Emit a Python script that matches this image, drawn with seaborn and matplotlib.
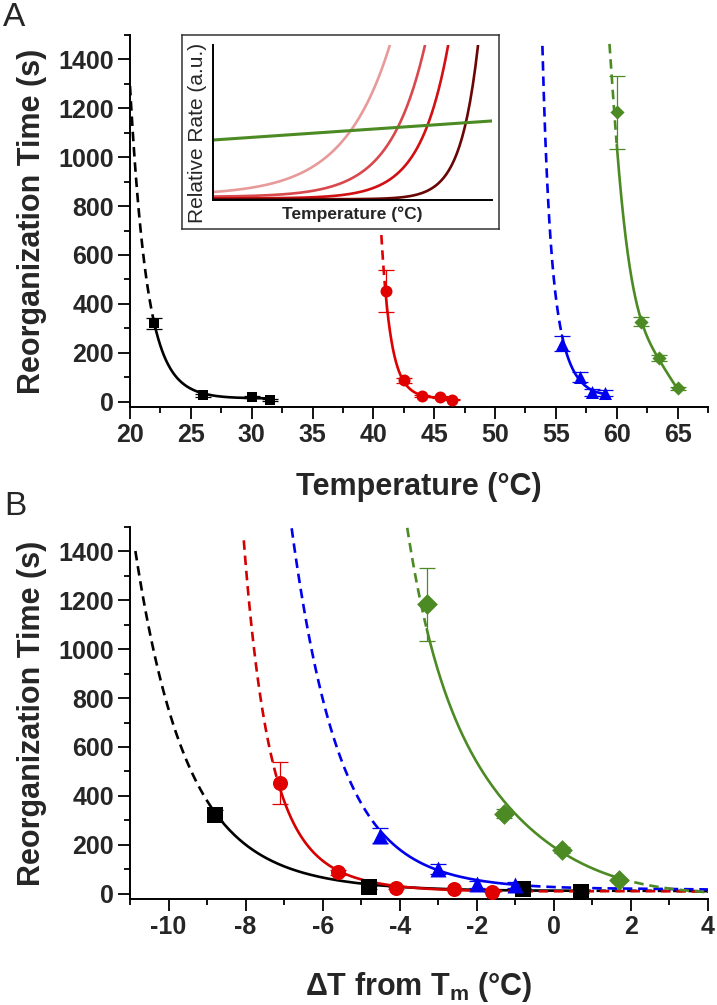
import numpy as np
import seaborn as sns
import matplotlib.pyplot as plt
from matplotlib.ticker import MultipleLocator

# ---- measured reorganization times (panel A: temperature in C) ----
temp_black = [22.0, 26.0, 30.0, 31.5]
time_black = [320, 26, 18, 6]
err_black = [22, 6, 5, 3]

temp_red = [41.0, 42.5, 44.0, 45.5, 46.5]
time_red = [452, 88, 22, 20, 8]
err_red = [86, 10, 5, 5, 3]

temp_blue = [55.5, 57.0, 58.0, 59.0]
time_blue = [237, 100, 38, 35]
err_blue = [30, 20, 15, 12]

temp_green = [60.0, 62.0, 63.5, 65.0]
time_green = [1184, 327, 180, 55]
err_green = [150, 18, 12, 6]

# melting temperatures used for panel B (dT = T - Tm)
tm_values = [30.8, 48.1, 60.0, 63.3]

# ---- points, panel A ----
fitA_black_x = [20.0, 20.27, 20.41, 20.68, 20.96, 21.23, 21.5, 22.0, 23.0, 24.1, 25.2, 26.0, 28.0, 30.0, 31.5]
fitA_black_y = [1300, 1122, 959, 771, 661, 567, 416, 320, 171, 90, 49, 30, 19, 15, 13]
fitA_red_x = [40.62, 40.75, 40.85, 41.0, 41.39, 41.8, 42.5, 43.3, 44.0, 45.4, 46.5]
fitA_red_y = [680, 620, 560, 452, 280, 158, 88, 42, 24, 16, 12]
fitA_blue_x = [53.85, 54.1, 54.37, 54.57, 54.78, 55.19, 55.5, 56.15, 57.0, 57.5, 58.0, 59.0]
fitA_blue_y = [1460, 1110, 906, 702, 498, 363, 237, 158, 100, 60, 42, 33]
fitA_green_x = [59.37, 59.6, 59.92, 60.25, 60.9, 61.33, 61.74, 62.0, 62.7, 63.46, 64.2, 65.0]
fitA_green_y = [1460, 1330, 1184, 837, 620, 484, 375, 327, 246, 178, 110, 53]

# ---- points, panel B ----
fitB_black_x = [-10.92, -10.56, -10.22, -9.83, -9.65, -9.0, -8.8, -8.0, -7.0, -6.0, -5.0, -3.0, -1.0, 0.7, 2.0, 4.0]
fitB_black_y = [1416, 1171, 927, 657, 575, 371, 318, 210, 120, 65, 38, 20, 14, 12, 11, 10]
fitB_red_x = [-8.12, -7.96, -7.8, -7.55, -7.31, -7.1, -6.58, -5.99, -5.6, -5.01, -4.1, -2.6, -1.6, 0.0, 2.0, 4.0]
fitB_red_y = [1457, 1241, 1008, 804, 600, 452, 249, 127, 88, 57, 28, 16, 12, 10, 9, 8]
fitB_blue_x = [-6.87, -6.58, -6.27, -6.01, -5.62, -5.08, -4.5, -3.71, -3.0, -2.0, -1.0, 0.5, 2.0, 4.0]
fitB_blue_y = [1498, 1282, 1037, 845, 575, 371, 237, 165, 100, 50, 37, 25, 20, 17]
fitB_green_x = [-3.9, -3.3, -2.86, -2.42, -2.2, -1.3, -0.6, 0.18, 0.96, 1.69, 2.34, 3.0, 4.0]
fitB_green_y = [1498, 1184, 873, 669, 601, 331, 248, 188, 125, 57, 37, 20, 6]

# ---- inset schematic (relative rate vs temperature) ----
inset_top = [0.634, 0.76, 0.843, 0.95]
inset_steep = [6, 8, 10, 16]
inset_base = [0.03, 0.02, 0.01, 0.005]
inset_colors = ['#e89a9a', '#d8484c', '#d20f12', '#6a0606']
inset_green = [0.387, 0.51]

BLACK, RED, BLUE, GREEN = '#000000', '#e00000', '#0000ee', '#4c8a24'
DASH = (0, (3.6, 2.2))

sns.set_theme(style='ticks')
plt.rcParams['font.family'] = ['Liberation Sans', 'DejaVu Sans']
plt.rcParams['axes.unicode_minus'] = False
plt.rcParams['mathtext.fontset'] = 'custom'
plt.rcParams['mathtext.bf'] = 'Liberation Sans:bold'
plt.rcParams['mathtext.rm'] = 'Liberation Sans:bold'


def draw_fit(ax, xs, ys, lo, hi, color):
    xs = np.asarray(xs, float)
    ys = np.asarray(ys, float)
    coef = np.polyfit(xs, np.log(ys + 10), 4)
    xx = np.linspace(xs[0], xs[-1], 500)
    yy = np.exp(np.polyval(coef, xx)) - 10
    keep = yy <= ys.max() + 5
    xx, yy = xx[keep], yy[keep]
    solid = (xx >= lo) & (xx <= hi)
    sns.lineplot(x=xx[solid], y=yy[solid], color=color, lw=1.9, ax=ax, zorder=2)
    left = xx <= lo
    right = xx >= hi
    if left.sum() > 1:
        sns.lineplot(x=xx[left], y=yy[left], color=color, lw=1.9, ls=DASH, ax=ax, zorder=2)
    if right.sum() > 1:
        sns.lineplot(x=xx[right], y=yy[right], color=color, lw=1.9, ls=DASH, ax=ax, zorder=2)


def draw_points(ax, xs, ys, errs, color, marker, size):
    ax.errorbar(xs, ys, yerr=errs, fmt='none', ecolor=color, elinewidth=0.9,
                capsize=6, capthick=0.9, zorder=3)
    sns.scatterplot(x=xs, y=ys, color=color, marker=marker, s=size,
                    linewidth=0, ax=ax, zorder=4)


def style_axes(ax):
    for side in ['top', 'right']:
        ax.spines[side].set_visible(False)
    for side in ['left', 'bottom']:
        ax.spines[side].set_linewidth(1.4)
        ax.spines[side].set_color('black')
    ax.tick_params(which='major', length=8.5, width=1.3, direction='out', color='black',
                   labelsize=18, pad=3)
    ax.tick_params(which='minor', length=4.5, width=1.3, direction='out', color='black')
    ax.tick_params(axis='both', which='both', left=True, bottom=True)
    ax.set_ylim(-22, 1500)
    ax.yaxis.set_major_locator(MultipleLocator(200))
    ax.yaxis.set_minor_locator(MultipleLocator(100))
    ax.set_yticks([0, 200, 400, 600, 800, 1000, 1200, 1400])
    for lab in ax.get_xticklabels() + ax.get_yticklabels():
        lab.set_fontweight('bold')
    ax.set_ylabel('Reorganization Time (s)', fontsize=22, fontweight='bold')
    ax.yaxis.set_label_coords(-0.143, 0.5)
    ax.grid(False)


fig = plt.figure(figsize=(7.17, 10.05), dpi=100)
axA = fig.add_axes([130 / 717, 1 - 407 / 1005, 578 / 717, 372 / 1005])
axB = fig.add_axes([130 / 717, 1 - 899 / 1005, 578 / 717, 372 / 1005])

# ---- panel A ----
draw_fit(axA, fitA_black_x, fitA_black_y, temp_black[0], temp_black[-1], BLACK)
draw_fit(axA, fitA_red_x, fitA_red_y, temp_red[0], temp_red[-1], RED)
draw_fit(axA, fitA_blue_x, fitA_blue_y, temp_blue[0], temp_blue[-1], BLUE)
draw_fit(axA, fitA_green_x, fitA_green_y, temp_green[0], temp_green[-1], GREEN)
draw_points(axA, temp_black, time_black, err_black, BLACK, 's', 62)
draw_points(axA, temp_red, time_red, err_red, RED, 'o', 74)
draw_points(axA, temp_blue, time_blue, err_blue, BLUE, '^', 88)
draw_points(axA, temp_green, time_green, err_green, GREEN, 'D', 52)
axA.set_xlim(20, 67.5)
axA.xaxis.set_major_locator(MultipleLocator(5))
axA.xaxis.set_minor_locator(MultipleLocator(2.5))
style_axes(axA)
axA.set_xlabel('Temperature (°C)', fontsize=22, fontweight='bold')
axA.xaxis.set_label_coords(0.5, -0.175)

# ---- panel B ----
dT_black = [t - tm_values[0] for t in temp_black]
dT_red = [t - tm_values[1] for t in temp_red]
dT_blue = [t - tm_values[2] for t in temp_blue]
dT_green = [t - tm_values[3] for t in temp_green]
draw_fit(axB, fitB_black_x, fitB_black_y, dT_black[0], dT_black[-1], BLACK)
draw_fit(axB, fitB_red_x, fitB_red_y, dT_red[0], dT_red[-1], '#d40000')
draw_fit(axB, fitB_blue_x, fitB_blue_y, dT_blue[0], dT_blue[-1], BLUE)
draw_fit(axB, fitB_green_x, fitB_green_y, dT_green[0], dT_green[-1], GREEN)
draw_points(axB, dT_black, time_black, err_black, BLACK, 's', 117)
draw_points(axB, dT_red, time_red, err_red, RED, 'o', 117)
draw_points(axB, dT_blue, time_blue, err_blue, BLUE, '^', 132)
draw_points(axB, dT_green, time_green, err_green, GREEN, 'D', 112)
axB.set_xlim(-11, 4)
axB.xaxis.set_major_locator(MultipleLocator(2))
axB.xaxis.set_minor_locator(MultipleLocator(1))
style_axes(axB)
axB.set_xlabel(r'ΔT from T$_{\mathbf{m}}$ (°C)', fontsize=22, fontweight='bold')
axB.xaxis.set_label_coords(0.5, -0.19)

# ---- inset ----
frame = fig.add_axes([182 / 717, 1 - 229 / 1005, 317 / 717, 194 / 1005])
frame.set_xticks([])
frame.set_yticks([])
frame.set_facecolor('white')
for s in frame.spines.values():
    s.set_linewidth(1.1)
    s.set_color('#333333')
ins = fig.add_axes([213 / 717, 1 - 200 / 1005, 279 / 717, 155 / 1005])
ins.set_facecolor('none')
for top, k, base, col in zip(inset_top, inset_steep, inset_base, inset_colors):
    xx = np.linspace(0, top, 200)
    yy = base + (1 - base) * np.exp(k * (xx - top))
    sns.lineplot(x=xx, y=yy, color=col, lw=1.9, ax=ins)
sns.lineplot(x=[0, 1], y=inset_green, color=GREEN, lw=2.2, ax=ins)
ins.set_xlim(0, 1)
ins.set_ylim(0, 1)
ins.set_xticks([])
ins.set_yticks([])
for side in ['top', 'right']:
    ins.spines[side].set_visible(False)
for side in ['left', 'bottom']:
    ins.spines[side].set_linewidth(1.4)
    ins.spines[side].set_color('black')
ins.set_ylabel('Relative Rate (a.u.)', fontsize=15)
ins.yaxis.set_label_coords(-0.022, 0.43)
ins.set_xlabel('Temperature (°C)', fontsize=12.5, fontweight='bold')
ins.xaxis.set_label_coords(0.5, -0.04)

fig.text(3 / 717, 1 - 2 / 1005, 'A', fontsize=24, va='top', ha='left')
fig.text(4 / 717, 1 - 491 / 1005, 'B', fontsize=24, va='top', ha='left')

fig.savefig('out.png', dpi=100)
